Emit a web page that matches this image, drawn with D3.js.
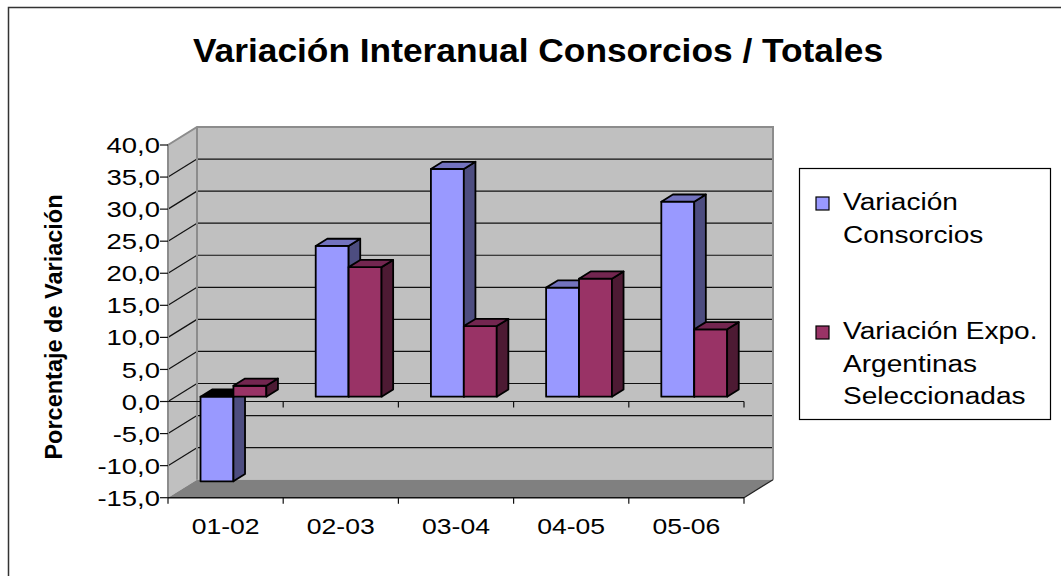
<!DOCTYPE html>
<html>
<head>
<meta charset="utf-8">
<script src="https://cdn.jsdelivr.net/npm/d3@7"></script>
<style>
  html, body { margin: 0; padding: 0; background: #fff; }
  svg text { font-family: "Liberation Sans", Arial, sans-serif; }
</style>
</head>
<body>
<svg id="chart" width="1061" height="576"></svg>
<script>
// ---- data ----
const categories = ["01-02", "02-03", "03-04", "04-05", "05-06"];
const seriesNames = ["Variación Consorcios", "Variación Expo. Argentinas Seleccionadas"];
const consorcios = [-13.2, 23.5, 35.5, 17.0, 30.4];
const expoArgentinas = [1.7, 20.2, 11.0, 18.4, 10.5];
const yTicks = [40, 35, 30, 25, 20, 15, 10, 5, 0, -5, -10, -15];
const chartTitle = "Variación Interanual Consorcios / Totales";
const yAxisTitle = "Porcentaje de Variación";

const svg = d3.select("#chart");

// stretch a text element horizontally (the reference glyphs are wider than tall)
function stretch(sel, k) {
  sel.each(function () {
    const w = this.getComputedTextLength();
    d3.select(this).attr("textLength", w * k).attr("lengthAdjust", "spacingAndGlyphs");
  });
  return sel;
}

// outer frame
svg.append("rect").attr("x", 8.5).attr("y", 7.5).attr("width", 1100).attr("height", 600)
  .attr("fill", "#fff").attr("stroke", "#333").attr("stroke-width", 1.5);

// 3D geometry
const DX = 29, DY = -18;                  // full depth offset (front -> back wall)
const x = d3.scaleBand().domain(categories).range([168, 744]);
const y = d3.scaleLinear().domain([-15, 40]).range([497.7, 145]);
const off = d => [DX * d, DY * d];
const barFront = 0.27, barBack = 0.67;

const yMin = -15, yMax = 40;
const X0 = 168, X1 = 744;

// back wall
const [bx, by] = off(1);
svg.append("polygon")
  .attr("points", [[X0 + bx, y(yMax) + by], [X1 + bx, y(yMax) + by], [X1 + bx, y(yMin) + by], [X0 + bx, y(yMin) + by]].join(" "))
  .attr("fill", "#c0c0c0");
// side wall
svg.append("polygon")
  .attr("points", [[X0, y(yMax)], [X0 + bx, y(yMax) + by], [X0 + bx, y(yMin) + by], [X0, y(yMin)]].join(" "))
  .attr("fill", "#c0c0c0");
// floor
svg.append("polygon")
  .attr("points", [[X0, y(yMin)], [X1, y(yMin)], [X1 + bx, y(yMin) + by], [X0 + bx, y(yMin) + by]].join(" "))
  .attr("fill", "#808080");

// gridlines (back wall + side wall)
const grid = svg.append("g").attr("stroke", "#111").attr("stroke-width", 1.2);
yTicks.filter(v => v > yMin && v < yMax).forEach(v => {
  grid.append("line").attr("x1", X0 + bx).attr("x2", X1 + bx)
    .attr("y1", y(v) + by).attr("y2", y(v) + by);
  grid.append("line").attr("x1", X0).attr("x2", X0 + bx)
    .attr("y1", y(v)).attr("y2", y(v) + by);
});

// wall edges
const edges = svg.append("g").attr("stroke", "#8c8c8c").attr("stroke-width", 2).attr("fill", "none");
edges.append("polyline").attr("points", [[X0, y(yMin)], [X0, y(yMax)], [X0 + bx, y(yMax) + by], [X1 + bx, y(yMax) + by], [X1 + bx, y(yMin) + by]].join(" "));
edges.append("line").attr("x1", X0 + bx).attr("x2", X0 + bx).attr("y1", y(yMax) + by).attr("y2", y(yMin) + by);

// floor right edge
svg.append("line").attr("x1", X1).attr("y1", y(yMin)).attr("x2", X1 + bx).attr("y2", y(yMin) + by)
  .attr("stroke", "#222").attr("stroke-width", 1.2);

// zero line at front with ticks
const zg = svg.append("g").attr("stroke", "#111").attr("stroke-width", 1.2);
zg.append("line").attr("x1", X0).attr("x2", X1).attr("y1", y(0)).attr("y2", y(0));
categories.forEach((c, i) => {
  const xx = x(c) + x.bandwidth();
  zg.append("line").attr("x1", xx).attr("x2", xx).attr("y1", y(0)).attr("y2", y(0) + 6);
});

// bars
const palette = [
  { front: "#9999ff", side: "#4d4d80", top: "#7373bf" },
  { front: "#993366", side: "#4d1a33", top: "#732650" }
];
const nS = 2, gap = 1.5;
const barW = x.bandwidth() / (nS + gap);
const series = [consorcios, expoArgentinas];
const barsG = svg.append("g").attr("stroke", "#000").attr("stroke-width", 1.8).attr("stroke-linejoin", "round");
const [fx, fy] = off(barFront);
const [kx, ky] = off(barBack);
const ddx = kx - fx, ddy = ky - fy;
categories.forEach((c, i) => {
  series.forEach((s, si) => {
    const v = s[i];
    const xl = x(c) + barW * gap / 2 + si * barW + fx;
    const xr = xl + barW;
    const yTop = y(Math.max(v, 0)) + fy;
    const yBot = y(Math.min(v, 0)) + fy;
    const col = palette[si];
    barsG.append("polygon").attr("points", [[xl, yTop], [xr, yTop], [xr, yBot], [xl, yBot]].join(" ")).attr("fill", col.front);
    barsG.append("polygon").attr("points", [[xr, yTop], [xr + ddx, yTop + ddy], [xr + ddx, yBot + ddy], [xr, yBot]].join(" ")).attr("fill", col.side);
    barsG.append("polygon").attr("points", [[xl, yTop], [xl + ddx, yTop + ddy], [xr + ddx, yTop + ddy], [xr, yTop]].join(" "))
      .attr("fill", v < 0 ? "#000" : col.top);
  });
});

// y axis ticks and labels
const ya = svg.append("g");
yTicks.forEach(v => {
  ya.append("line").attr("x1", X0 - 8).attr("x2", X0).attr("y1", y(v)).attr("y2", y(v))
    .attr("stroke", "#111").attr("stroke-width", 1.2);
  const t = ya.append("text").attr("x", X0 - 8).attr("y", y(v)).attr("dy", "0.36em")
    .attr("text-anchor", "end").attr("font-size", 22.5).attr("fill", "#000")
    .text(d3.format(".1f")(v).replace(".", ",").replace("−", "-"));
  stretch(t, 1.22);
});

// category axis at floor
const xa = svg.append("g");
xa.append("line").attr("x1", X0).attr("x2", X1).attr("y1", y(yMin)).attr("y2", y(yMin))
  .attr("stroke", "#111").attr("stroke-width", 1.5);
[X0].concat(categories.map(c => x(c) + x.bandwidth())).forEach(xx => {
  xa.append("line").attr("x1", xx).attr("x2", xx).attr("y1", y(yMin)).attr("y2", y(yMin) + 6)
    .attr("stroke", "#111").attr("stroke-width", 1.2);
});
categories.forEach(c => {
  const t = xa.append("text").attr("x", x(c) + x.bandwidth() / 2).attr("y", 534)
    .attr("text-anchor", "middle").attr("font-size", 22.5).text(c);
  stretch(t, 1.18);
});

// title
stretch(svg.append("text").attr("x", 538).attr("y", 62).attr("text-anchor", "middle")
  .attr("font-size", 33).attr("font-weight", "bold").text(chartTitle), 1.07);

// y axis title
svg.append("text").attr("transform", "translate(62,327) rotate(-90)").attr("text-anchor", "middle")
  .attr("font-size", 23.5).attr("font-weight", "bold").text(yAxisTitle);

// legend
const lg = svg.append("g");
lg.append("rect").attr("x", 799.5).attr("y", 168.5).attr("width", 251).attr("height", 251)
  .attr("fill", "#fff").attr("stroke", "#000").attr("stroke-width", 1.2);
const legendLines = [["Variación", "Consorcios"], ["Variación Expo.", "Argentinas", "Seleccionadas"]];
const legendTop = [210, 339];
legendLines.forEach((lines, si) => {
  lg.append("rect").attr("x", 816).attr("y", legendTop[si] - 13).attr("width", 13).attr("height", 13)
    .attr("fill", palette[si].front).attr("stroke", "#000").attr("stroke-width", 1.2);
  lines.forEach((t, li) => {
    const tt = lg.append("text").attr("x", 843).attr("y", legendTop[si] + li * 32.5)
      .attr("font-size", 23).text(t);
    stretch(tt, 1.22);
  });
});
</script>
</body>
</html>
